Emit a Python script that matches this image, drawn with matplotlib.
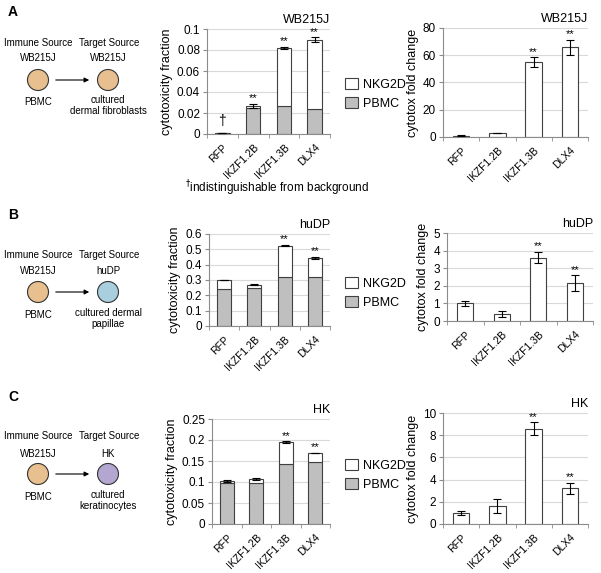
import numpy as np
import matplotlib
matplotlib.use("Agg")
import matplotlib.pyplot as plt
from matplotlib.patches import Circle

plt.rcParams['font.family'] = ['Liberation Sans', 'DejaVu Sans']

W, H = 601, 573
cats = ['RFP', 'IKZF1.2B', 'IKZF1.3B', 'DLX4']

# panel A (WB215J targets)
a_pbmc = [0.0008, 0.025, 0.027, 0.024]
a_total = [0.001, 0.027, 0.082, 0.090]
a_total_err = [0.0002, 0.002, 0.001, 0.002]
a_fold = [1.0, 3.0, 55.0, 66.0]
a_fold_err = [0.3, 0.3, 3.5, 5.5]

# panel B (huDP targets)
b_pbmc = [0.24, 0.25, 0.32, 0.32]
b_total = [0.30, 0.27, 0.525, 0.445]
b_total_err = [0.003, 0.005, 0.006, 0.005]
b_fold = [1.0, 0.4, 3.6, 2.15]
b_fold_err = [0.15, 0.15, 0.33, 0.45]

# panel C (HK targets)
c_pbmc = [0.098, 0.098, 0.143, 0.148]
c_total = [0.103, 0.107, 0.195, 0.169]
c_total_err = [0.002, 0.003, 0.002, 0.001]
c_fold = [1.0, 1.6, 8.6, 3.2]
c_fold_err = [0.2, 0.65, 0.55, 0.5]

stars_frac = ['', '**', '**', '**']
stars_b = ['', '', '**', '**']


def px_axes(fig, x0, y0, x1, y1):
    # pixel box (top-left origin) -> figure axes
    return fig.add_axes([x0 / W, 1 - y1 / H, (x1 - x0) / W, (y1 - y0) / H])


def style(ax, ymax, step):
    ax.set_xlim(-0.5, 3.5)
    ax.set_ylim(0, ymax)
    ax.set_yticks(np.arange(0, ymax + step / 2, step))
    ax.yaxis.grid(True, color='#d9d9d9', lw=0.8)
    ax.set_axisbelow(True)
    for s in ['top', 'right']:
        ax.spines[s].set_visible(False)
    for s in ['left', 'bottom']:
        ax.spines[s].set_color('#8c8c8c')
        ax.spines[s].set_linewidth(0.8)
    ax.set_xticks(range(4))
    ax.set_xticklabels(cats, rotation=45, ha='right', rotation_mode='anchor', fontsize=7.5)
    ax.set_xticks(np.arange(-0.5, 4, 1), minor=True)
    ax.tick_params(axis='x', which='major', length=0, pad=6)
    ax.tick_params(axis='x', which='minor', length=3, color='#8c8c8c', direction='out')
    ax.tick_params(axis='y', length=3, color='#8c8c8c', labelsize=8.5, pad=2)


def stacked(ax, pbmc, total, err, ymax, step, title, stars, leg_y, fmt=None):
    x = np.arange(4)
    nkg = np.array(total) - np.array(pbmc)
    ax.bar(x, pbmc, 0.47, color='#bfbfbf', edgecolor='#404040', lw=0.8, label='PBMC', zorder=2)
    ax.bar(x, nkg, 0.47, bottom=pbmc, color='white', edgecolor='#404040', lw=0.8, label='NKG2D', zorder=2)
    ax.errorbar(x, total, yerr=err, fmt='none', ecolor='black', elinewidth=0.8, capsize=3, capthick=0.8, zorder=3)
    style(ax, ymax, step)
    if fmt:
        ax.set_yticklabels([fmt(v) for v in ax.get_yticks()])
    ax.set_ylabel('cytotoxicity fraction', fontsize=9, labelpad=3)
    ax.set_title(title, fontsize=9, loc='right', pad=4)
    for i in range(4):
        if stars[i]:
            ax.text(x[i], total[i] + err[i] + ymax * 0.005, stars[i], ha='center', va='bottom', fontsize=8)
    h, l = ax.get_legend_handles_labels()
    ax.legend(h[::-1], l[::-1], loc='center left', bbox_to_anchor=(334 / W, 1 - leg_y / H),
              bbox_transform=ax.figure.transFigure, frameon=False, fontsize=9,
              handlelength=1.0, handleheight=1.0, handletextpad=0.4, labelspacing=0.5)


def fold(ax, vals, err, ymax, step, title, stars):
    x = np.arange(4)
    ax.bar(x, vals, 0.45, color='white', edgecolor='#404040', lw=0.8, zorder=2)
    ax.errorbar(x, vals, yerr=err, fmt='none', ecolor='black', elinewidth=0.8, capsize=3, capthick=0.8, zorder=3)
    style(ax, ymax, step)
    ax.set_ylabel('cytotox fold change', fontsize=9, labelpad=3)
    ax.set_title(title, fontsize=9, loc='right', pad=4)
    for i in range(4):
        if stars[i]:
            ax.text(x[i], vals[i] + err[i] + ymax * 0.005, stars[i], ha='center', va='bottom', fontsize=8)


fig = plt.figure(figsize=(W / 100, H / 100), dpi=100)

# diagrams
ov = fig.add_axes([0, 0, 1, 1])
ov.set_xlim(0, W)
ov.set_ylim(H, 0)
ov.axis('off')

tan = '#e8bf8e'
diagrams = [
    ('A', 12, 80, 43, 58, 'WB215J', tan, ['cultured', 'dermal fibroblasts'], 100),
    ('B', 215, 292, 255, 271, 'huDP', '#a9cedd', ['cultured dermal', 'papillae'], 313),
    ('C', 397, 474, 436, 454, 'HK', '#b3a6d0', ['cultured', 'keratinocytes'], 495),
]
for letter, ly, cy, hy, sy, tgt, col, desc, dy in diagrams:
    ov.text(8, ly, letter, fontsize=10, fontweight='bold', va='center', ha='left')
    ov.text(38, hy, 'Immune Source', fontsize=7, ha='center', va='center')
    ov.text(109, hy, 'Target Source', fontsize=7, ha='center', va='center')
    ov.text(38, sy, 'WB215J', fontsize=7, ha='center', va='center')
    ov.text(108, sy, tgt, fontsize=7, ha='center', va='center')
    ov.add_patch(Circle((38, cy), 10.5, facecolor=tan, edgecolor='#333333', lw=0.8))
    ov.add_patch(Circle((108, cy), 10.5, facecolor=col, edgecolor='#333333', lw=0.8))
    ov.annotate('', xy=(92, cy), xytext=(53, cy),
                arrowprops=dict(arrowstyle='-|>', color='black', lw=0.8, mutation_scale=7))
    ov.text(38, dy + 2, 'PBMC', fontsize=7, ha='center', va='center')
    ov.text(108, dy, desc[0], fontsize=7, ha='center', va='center')
    ov.text(108, dy + 11, desc[1], fontsize=7, ha='center', va='center')

ov.text(277, 188, r'$^{\dagger}$indistinguishable from background', fontsize=8.5, ha='center', va='center')

ax1 = px_axes(fig, 207, 29, 330, 134)
stacked(ax1, a_pbmc, a_total, a_total_err, 0.1, 0.02, 'WB215J', stars_frac, 94,
        fmt=lambda v: '0' if v == 0 else f'{v:g}')
ax1.text(0, 0.006, '\u2020', ha='center', va='bottom', fontsize=10)

ax2 = px_axes(fig, 443, 28, 588, 137)
fold(ax2, a_fold, a_fold_err, 80, 20, 'WB215J', stars_b)

ax3 = px_axes(fig, 209, 234, 330, 326)
stacked(ax3, b_pbmc, b_total, b_total_err, 0.6, 0.1, 'huDP', stars_b, 293,
        fmt=lambda v: '0' if v == 0 else f'{v:.1f}')

ax4 = px_axes(fig, 447, 233, 593, 321)
fold(ax4, b_fold, b_fold_err, 5, 1, 'huDP', stars_b)

ax5 = px_axes(fig, 212, 419, 330, 524)
stacked(ax5, c_pbmc, c_total, c_total_err, 0.25, 0.05, 'HK', stars_b, 475,
        fmt=lambda v: '0' if abs(v) < 1e-9 else f'{v:g}')

ax6 = px_axes(fig, 443, 413, 588, 524)
fold(ax6, c_fold, c_fold_err, 10, 2, 'HK', stars_b)

fig.savefig('out.png', dpi=100)
